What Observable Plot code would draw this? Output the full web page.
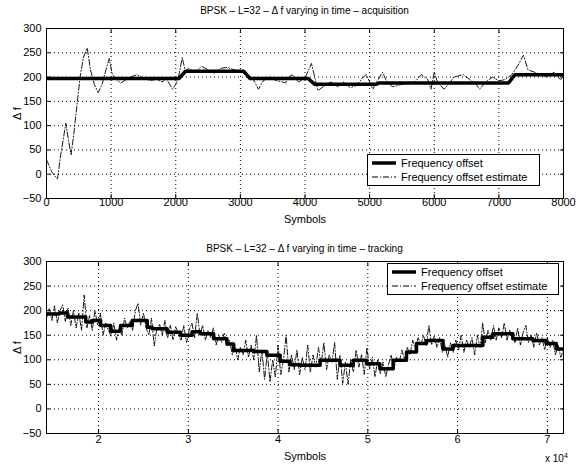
<!DOCTYPE html>
<html>
<head>
<meta charset="utf-8">
<script src="https://cdn.jsdelivr.net/npm/d3@7"></script>
<script src="https://cdn.jsdelivr.net/npm/@observablehq/plot@0.6"></script>
<style>
  html, body { margin: 0; padding: 0; background: #fff; }
  #wrap { position: relative; width: 576px; height: 469px; font-family: "Liberation Sans", Arial, sans-serif; color: #000; }
  .title { position: absolute; left: 46px; width: 517px; text-align: center; font-size: 10px; z-index: 5; }
  .legend { position: absolute; border: 1px solid #000; background: #fff; font-size: 11px; padding: 1px 4px; z-index: 5; }
  .legend div { display: flex; align-items: center; height: 14px; }
  .legend svg { margin-right: 5px; }
  .exp { position: absolute; font-size: 10px; z-index: 5; }
  svg { overflow: visible; }
</style>
</head>
<body>
<div id="wrap">
  <div id="top" style="position:absolute;left:0;top:0"></div>
  <div id="bot" style="position:absolute;left:0;top:230px"></div>
  <div class="title" style="top:5px">BPSK – L=32 – Δ f varying in time – acquisition</div>
  <div class="title" style="top:243px">BPSK – L=32 – Δ f varying in time – tracking</div>
  <div class="legend" style="left:367px;top:154px;width:163px">
    <div><svg width="24" height="6"><line x1="0" y1="3" x2="24" y2="3" stroke="#000" stroke-width="3.5"/></svg>Frequency offset</div>
    <div><svg width="24" height="6"><line x1="0" y1="3" x2="24" y2="3" stroke="#000" stroke-width="1" stroke-dasharray="6,2,1,2"/></svg>Frequency offset estimate</div>
  </div>
  <div class="legend" style="left:387px;top:263px;width:162px">
    <div><svg width="24" height="6"><line x1="0" y1="3" x2="24" y2="3" stroke="#000" stroke-width="3.5"/></svg>Frequency offset</div>
    <div><svg width="24" height="6"><line x1="0" y1="3" x2="24" y2="3" stroke="#000" stroke-width="1" stroke-dasharray="6,2,1,2"/></svg>Frequency offset estimate</div>
  </div>
  <div class="exp" style="left:545px;top:452px">x 10<sup style="font-size:7px">4</sup></div>
</div>
<script>
// ---------- Top panel: acquisition ----------
const topXTicks = [0, 1000, 2000, 3000, 4000, 5000, 6000, 7000, 8000];
const yTicks = [-50, 0, 50, 100, 150, 200, 250, 300];

const topOffsetSym = [0, 2050, 2150, 3050, 3150, 4050, 4150, 5100, 5150, 7150, 7250, 8000];
const topOffsetVal = [197, 197, 212, 212, 197, 197, 185, 185, 188, 188, 205, 205];

const topEstSym = [0, 80, 170, 220, 300, 340, 380, 420, 470, 520, 570, 630, 680, 740, 800, 860, 920, 970, 1020, 1080, 1150, 1200, 1300, 1400, 1500, 1600, 1700, 1800, 1850, 1950, 2000, 2050, 2100, 2150, 2200, 2300, 2400, 2500, 2600, 2700, 2800, 2900, 3000, 3100, 3200, 3280, 3350, 3450, 3550, 3650, 3700, 3750, 3800, 3900, 4000, 4100, 4150, 4200, 4300, 4400, 4500, 4600, 4700, 4800, 4900, 4950, 5000, 5050, 5100, 5200, 5250, 5350, 5500, 5700, 5800, 5900, 5950, 6000, 6050, 6150, 6250, 6300, 6450, 6550, 6650, 6700, 6800, 6900, 7000, 7100, 7200, 7300, 7380, 7450, 7550, 7650, 7750, 7850, 7950, 8000];
const topEstVal = [30, 5, -10, 40, 105, 70, 40, 80, 140, 200, 240, 260, 215, 185, 168, 185, 215, 238, 205, 195, 188, 192, 200, 205, 197, 193, 195, 190, 198, 175, 185, 205, 240, 212, 218, 210, 222, 215, 208, 218, 220, 215, 212, 205, 195, 175, 192, 200, 193, 190, 188, 200, 205, 190, 198, 228, 200, 172, 182, 190, 180, 190, 178, 183, 200, 205, 190, 175, 188, 210, 195, 180, 185, 190, 205, 195, 175, 210, 190, 175, 190, 200, 205, 195, 185, 175, 190, 200, 192, 195, 205, 225, 245, 215, 210, 205, 200, 210, 195, 200];

// ---------- Bottom panel: tracking ----------
const botXTicks = [20000, 30000, 40000, 50000, 60000, 70000];
const botOffsetSym = [14200, 15600, 16530, 18570, 19310, 20230, 21340, 22450, 23750, 25420, 25980, 27640, 29120, 30420, 31340, 32820, 34300, 35040, 37260, 38750, 40230, 41340, 42450, 44680, 46900, 48370, 49860, 51340, 52820, 54310, 55420, 56530, 58380, 59490, 62820, 63930, 66150, 68380, 69860, 71000, 71800];
const botOffsetVal = [193, 195, 187, 177, 180, 170, 158, 170, 180, 166, 163, 156, 150, 157, 153, 143, 132, 119, 117, 109, 97, 90, 89, 99, 89, 99, 92, 82, 99, 116, 133, 139, 122, 129, 146, 153, 143, 139, 133, 122, 122];

const botEstVal = [185, 205, 180, 210, 175, 200, 212, 178, 205, 170, 200, 165, 195, 160, 232, 165, 190, 160, 200, 170,
  195, 150, 175, 160, 148, 175, 140, 165, 150, 185, 165, 178, 160, 200, 215, 170, 195, 165, 150, 185,
  128, 165, 172, 150, 180, 145, 170, 140, 168, 150, 140, 170, 135, 160, 175, 145, 195, 150, 170, 140,
  160, 145, 165, 130, 150, 135, 155, 128, 140, 110, 130, 100, 125, 110, 140, 105, 130, 100, 150, 75,
  120, 60, 115, 55, 100, 65, 130, 70, 100, 150, 75, 110, 80, 120, 70, 105, 80, 130, 75, 110,
  85, 125, 90, 135, 80, 110, 95, 135, 60, 110, 52, 95, 50, 100, 75, 120, 85, 110, 70, 125,
  80, 105, 65, 100, 72, 95, 65, 90, 110, 80, 105, 95, 120, 100, 125, 110, 140, 120, 145, 130,
  150, 128, 170, 130, 148, 125, 145, 115, 130, 105, 135, 115, 140, 120, 150, 115, 140, 125, 145, 110,
  150, 125, 175, 135, 160, 140, 170, 140, 165, 145, 175, 140, 160, 150, 135, 165, 130, 155, 170, 135,
  150, 125, 155, 130, 145, 120, 145, 125, 140, 110, 130, 105, 120];
const botEstSym = botEstVal.map((_, i) => 14200 + 300 * i);

const zip = (xs, ys) => xs.map((x, i) => ({x, y: ys[i]}));
const topOffset = zip(topOffsetSym, topOffsetVal);
const topEst = zip(topEstSym, topEstVal);
const botOffset = zip(botOffsetSym, botOffsetVal);
const botEst = zip(botEstSym, botEstVal);

const font = '"Liberation Sans", Arial, sans-serif';

function panel({xDomain, xTicks, xFormat, offset, offsetCurve, est, height, marginTop, marginBottom, xPad}) {
  return Plot.plot({
    width: 576,
    height,
    marginLeft: 46,
    marginRight: 13,
    marginTop,
    marginBottom,
    style: {fontFamily: font, fontSize: "11px", background: "transparent", color: "black"},
    x: {domain: xDomain},
    y: {domain: [-50, 300]},
    marks: [
      Plot.gridX(xTicks, {stroke: "black", strokeOpacity: 1, strokeDasharray: "1,3"}),
      Plot.gridY(yTicks, {stroke: "black", strokeOpacity: 1, strokeDasharray: "1,3"}),
      Plot.line(est, {x: "x", y: "y", stroke: "black", strokeWidth: 0.9, strokeDasharray: "6,2,1,2", clip: true}),
      Plot.line(offset, {x: "x", y: "y", stroke: "black", strokeWidth: 3.5, curve: offsetCurve, clip: true}),
      Plot.axisX({ticks: xTicks, tickFormat: xFormat, tickSize: -4, tickPadding: 4 + xPad, label: "Symbols", labelAnchor: "center", labelArrow: "none", labelOffset: 24 + xPad}),
      Plot.axisX({anchor: "top", ticks: xTicks, tickSize: -4, tickFormat: () => "", label: null}),
      Plot.axisY({ticks: yTicks, tickSize: -4, tickPadding: 9, label: "Δ f", labelAnchor: "center", labelArrow: "none", labelOffset: 33}),
      Plot.axisY({anchor: "right", ticks: yTicks, tickSize: -4, tickFormat: () => "", label: null}),
      Plot.frame({stroke: "black", strokeWidth: 1})
    ]
  });
}

document.getElementById("top").append(panel({
  xDomain: [0, 8000], xTicks: topXTicks, xFormat: d => String(d),
  offset: topOffset, offsetCurve: "linear", est: topEst,
  height: 230, marginTop: 28, marginBottom: 32, xPad: 0
}));
document.getElementById("bot").append(panel({
  xDomain: [14200, 71800], xTicks: botXTicks, xFormat: d => String(d / 10000),
  offset: botOffset, offsetCurve: "step-after", est: botEst,
  height: 239, marginTop: 31, marginBottom: 36, xPad: 2
}));
</script>
</body>
</html>
